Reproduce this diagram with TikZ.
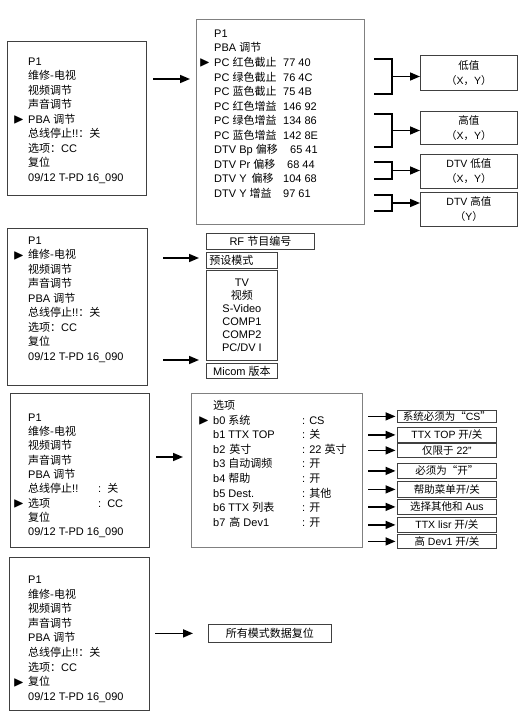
\documentclass[tikz,border=0pt]{standalone}
\usepackage{amssymb}
\usepackage{graphicx}
\usepackage{fontspec}
\setmainfont{Liberation Sans}
\newfontfamily\cjk{Noto Sans CJK SC}
\usetikzlibrary{arrows.meta,positioning,calc}
\newcommand\zh[1]{{\cjk #1}}
\newcommand\cur{\llap{\raisebox{-0.5pt}{\scalebox{1.3}{$\blacktriangleright$}}\hspace{4pt}}}
\newcommand\pv[2]{\makebox[69pt][l]{#1}#2}
\newcommand\mc[2]{\makebox[70pt][l]{#1}:\hspace{6pt}#2}
\newcommand\oc[2]{\makebox[89pt][l]{#1}:\hspace{4pt}#2}

\begin{document}
\begin{tikzpicture}[x=1pt,y=-1pt,
  menu/.style={draw=black!75,line width=1pt,anchor=north west,inner sep=0pt},
  panel/.style={draw=black!50,line width=1pt,anchor=north west,inner sep=0pt},
  tag/.style={draw=black!75,line width=0.8pt,anchor=north west,inner sep=0pt,
              align=center,font=\fontsize{10.5}{15}\selectfont},
  lines/.style={anchor=north west,inner sep=0pt,align=left,
                font=\fontsize{11}{14.5}\selectfont},
  link/.style={-{Triangle[length=10pt,width=8pt]},line width=1.6pt},
  brk/.style={line width=1.7pt}]
\useasboundingbox (0,0) rectangle (526,711);

% PBA adjustment
\node[menu,minimum width=139pt,minimum height=154pt] (menuA) at (7,41) {};
\node[lines] (txtA) at (28,55) {\strut P1\\ \zh{维修-电视}\\ \zh{视频调节}\\ \zh{声音调节}\\
  \cur PBA \zh{调节}\\ \zh{总线停止}!!\zh{：关}\\ \zh{选项：}CC\\ \zh{复位}\\ 09/12 T-PD 16\_090};
\node[panel,minimum width=168pt,minimum height=205pt] (detA) at (196,19) {};
\node[lines,font=\fontsize{11}{14.55}\selectfont] (txtdA) at (214,27) {\strut P1\\ PBA \zh{调节}\\
  \cur\pv{PC \zh{红色截止}}{77 40}\\ \pv{PC \zh{绿色截止}}{76 4C}\\ \pv{PC \zh{蓝色截止}}{75 4B}\\
  \pv{PC \zh{红色增益}}{146 92}\\ \pv{PC \zh{绿色增益}}{134 86}\\ \pv{PC \zh{蓝色增益}}{142 8E}\\
  \pv{DTV Bp \zh{偏移}}{\hspace{7pt}65 41}\\ \pv{DTV Pr \zh{偏移}}{\hspace{4pt}68 44}\\
  \pv{DTV Y\hspace{5pt}\zh{偏移}}{104 68}\\ \pv{DTV Y \zh{增益}}{97 61}};
\coordinate (arrA) at (0,79);
\draw[link] ([xshift=6pt]menuA.east |- arrA) -- ([xshift=-6pt]detA.west |- arrA);

\node[tag,minimum width=97pt,minimum height=35pt] (lowA) at (420,55) {\zh{低值}\\ \zh{（}X\zh{，}Y\zh{）}};
\node[tag,minimum width=97pt,minimum height=33pt] (highA) at (420,111) {\zh{高值}\\ \zh{（}X\zh{，}Y\zh{）}};
\node[tag,minimum width=97pt,minimum height=34pt] (dlowA) at (420,154) {DTV \zh{低值}\\ \zh{（}X\zh{，}Y\zh{）}};
\node[tag,minimum width=97pt,minimum height=34pt] (dhighA) at (420,192) {DTV \zh{高值}\\ \zh{（}Y\zh{）}};

\draw[brk] (374,59) -| (392,94) -- (374,94);
\draw[brk] (374,114) -| (392,147) -- (374,147);
\draw[brk] (374,162) -| (392,179) -- (374,179);
\draw[brk] (374,195) -| (392,211) -- (374,211);
\coordinate (bA1) at (392,76.5);
\coordinate (bA2) at (392,130.5);
\coordinate (bA3) at (392,170.5);
\coordinate (bA4) at (392,203);
\draw[link] (bA1) -- (lowA.west |- bA1);
\draw[link] (bA2) -- (highA.west |- bA2);
\draw[link] (bA3) -- (dlowA.west |- bA3);
\draw[link] (bA4) -- (dhighA.west |- bA4);

% service TV
\node[menu,minimum width=140pt,minimum height=157pt] (menuB) at (7,228) {};
\node[lines] (txtB) at (28,234) {\strut P1\\ \cur\zh{维修-电视}\\ \zh{视频调节}\\ \zh{声音调节}\\
  PBA \zh{调节}\\ \zh{总线停止}!!\zh{：关}\\ \zh{选项：}CC\\ \zh{复位}\\ 09/12 T-PD 16\_090};
\node[tag,minimum width=108pt,minimum height=16pt,font=\fontsize{11}{13}\selectfont] (rfB) at (206,233) {RF \zh{节目编号}};
\node[tag,minimum width=71pt,minimum height=16pt,text width=65pt,align=left,inner xsep=3pt,
      font=\fontsize{11}{13}\selectfont] (presetB) at (206,252) {\zh{预设模式}};
\node[tag,minimum width=71pt,minimum height=90pt,font=\fontsize{11}{13}\selectfont] (srcB) at (206,270)
  {TV\\ \zh{视频}\\ S-Video\\ COMP1\\ COMP2\\ PC/DV I};
\node[tag,minimum width=71pt,minimum height=15pt,font=\fontsize{11}{13}\selectfont] (micomB) at (206,363) {Micom \zh{版本}};
\coordinate (arrB1) at (0,258);
\coordinate (arrB2) at (0,360);
\draw[link] ([xshift=15pt]menuB.east |- arrB1) -- ([xshift=-7pt]presetB.west |- arrB1);
\draw[link] ([xshift=15pt]menuB.east |- arrB2) -- ([xshift=-7pt]srcB.west |- arrB2);

% option bytes
\node[menu,minimum width=139pt,minimum height=154pt] (menuC) at (10,393) {};
\node[lines,font=\fontsize{11}{14.3}\selectfont] (txtC) at (28,411) {\strut P1\\ \zh{维修-电视}\\ \zh{视频调节}\\
  \zh{声音调节}\\ PBA \zh{调节}\\ \mc{\zh{总线停止}!!}{\zh{关}}\\ \cur\mc{\zh{选项}}{CC}\\ \zh{复位}\\ 09/12 T-PD 16\_090};
\node[panel,minimum width=171pt,minimum height=154pt] (optC) at (191,393) {};
\node[lines,font=\fontsize{11}{14.6}\selectfont] (txtoC) at (213,399) {\strut\zh{选项}\\
  \cur\oc{b0 \zh{系统}}{CS}\\ \oc{b1 TTX TOP}{\zh{关}}\\ \oc{b2\hspace{4pt}\zh{英寸}}{22 \zh{英寸}}\\
  \oc{b3 \zh{自动调频}}{\zh{开}}\\ \oc{b4 \zh{帮助}}{\zh{开}}\\ \oc{b5 Dest.}{\zh{其他}}\\
  \oc{b6 TTX \zh{列表}}{\zh{开}}\\ \oc{b7\hspace{4pt}\zh{高} Dev1}{\zh{开}}};
\coordinate (arrC) at (0,457);
\draw[link] ([xshift=6pt]menuC.east |- arrC) -- ([xshift=-8pt]optC.west |- arrC);

\node[tag,minimum width=99pt,minimum height=12pt] (r1) at (397,410) {\zh{系统必须为“}CS\zh{”}};
\node[tag,minimum width=99pt,minimum height=15pt] (r2) at (397,427) {TTX TOP \zh{开}/\zh{关}};
\node[tag,minimum width=99pt,minimum height=14pt] (r3) at (397,443) {\zh{仅限于} 22"};
\node[tag,minimum width=99pt,minimum height=15pt] (r4) at (397,463) {\zh{必须为“开”}};
\node[tag,minimum width=99pt,minimum height=16pt] (r5) at (397,481) {\zh{帮助菜单开}/\zh{关}};
\node[tag,minimum width=99pt,minimum height=15pt] (r6) at (397,499) {\zh{选择其他和} Aus};
\node[tag,minimum width=99pt,minimum height=15pt] (r7) at (397,517) {TTX lisr \zh{开}/\zh{关}};
\node[tag,minimum width=99pt,minimum height=14pt] (r8) at (397,534) {\zh{高} Dev1 \zh{开}/\zh{关}};
\foreach \r in {r1,r2,r3,r4,r5,r6,r7,r8}
  \draw[link,shorten >=1.5pt] ([xshift=-29pt]\r.west) -- (\r.west);

% reset
\node[menu,minimum width=140pt,minimum height=153pt] (menuD) at (9,557) {};
\node[lines,font=\fontsize{11}{14.6}\selectfont] (txtD) at (28,573) {\strut P1\\ \zh{维修-电视}\\ \zh{视频调节}\\
  \zh{声音调节}\\ PBA \zh{调节}\\ \zh{总线停止}!!\zh{：关}\\ \zh{选项：}CC\\ \cur\zh{复位}\\ 09/12 T-PD 16\_090};
\node[tag,minimum width=123pt,minimum height=18pt,font=\fontsize{11}{13}\selectfont] (resetD) at (208,624) {\zh{所有模式数据复位}};
\draw[link] ([xshift=5pt]menuD.east |- resetD) -- ([xshift=-15pt]resetD.west);
\end{tikzpicture}
\end{document}
